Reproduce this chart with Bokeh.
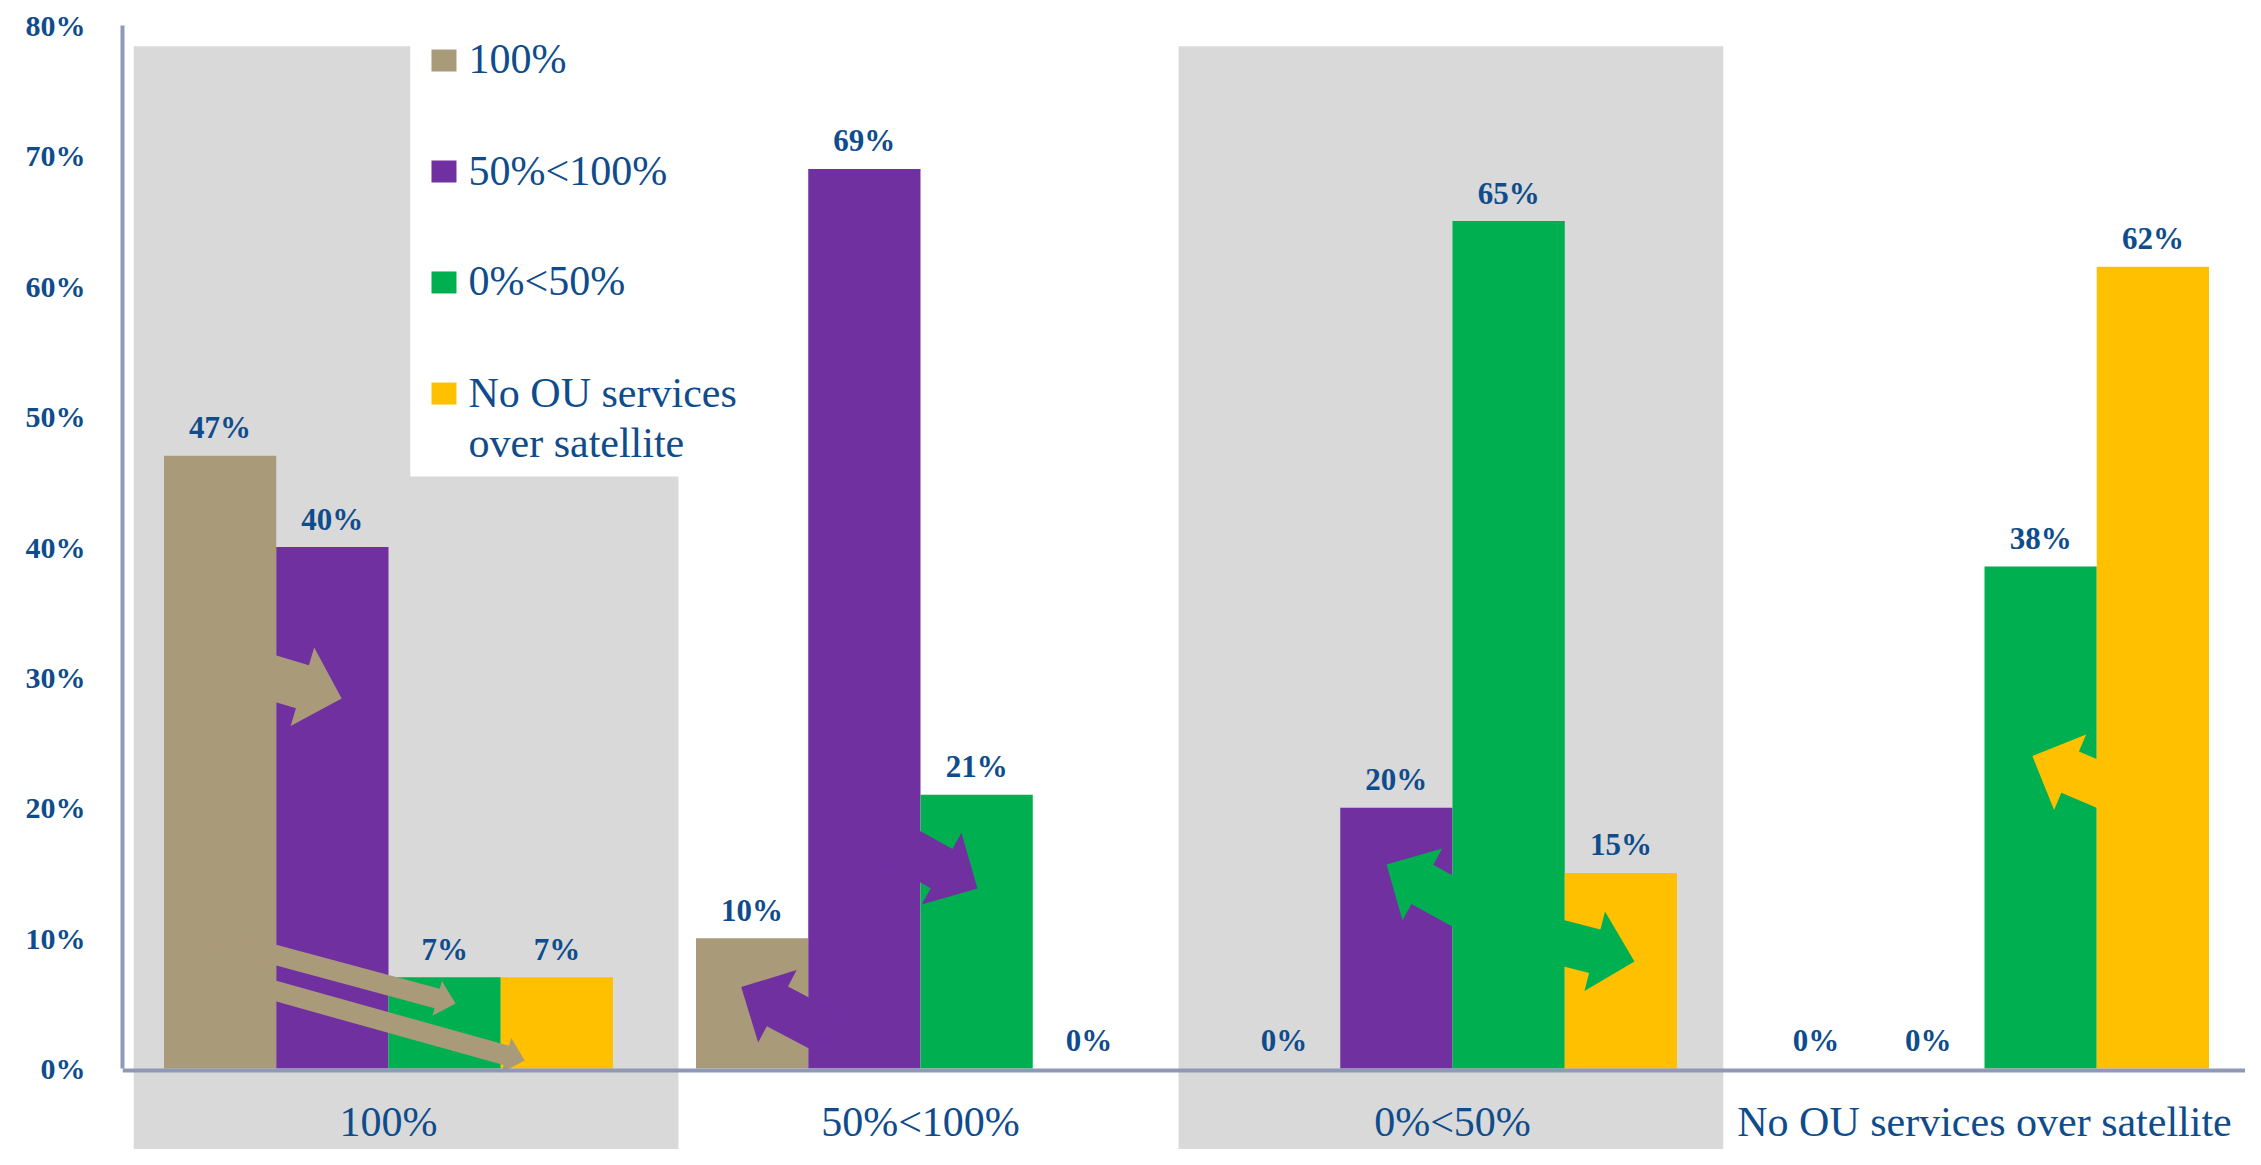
import math
from bokeh.plotting import figure
from bokeh.models import Range1d, FixedTicker, ColumnDataSource
from bokeh.core.properties import value
from bokeh.embed import file_html
from bokeh.resources import INLINE

# ---------------- data ----------------
categories = ["100%", "50%<100%", "0%<50%", "No OU services over satellite"]
series_names = ["100%", "50%<100%", "0%<50%", "No OU services over satellite"]
vals_100 = [47, 10, 0, 0]
vals_50_100 = [40, 69, 20, 0]
vals_0_50 = [7, 21, 65, 38.5]
vals_none = [7, 0, 15, 61.5]
y_ticks = [0, 10, 20, 30, 40, 50, 60, 70, 80]
y_tick_labels = ["0%", "10%", "20%", "30%", "40%", "50%", "60%", "70%", "80%"]
legend_lines = [["100%"], ["50%<100%"], ["0%<50%"], ["No OU services", "over satellite"]]

# ---------------- styles ----------------
COLORS = ["#A99A7A", "#7030A0", "#00B050", "#FFC000"]
BAND = "#D9D9D9"
AXIS = "#8D99B6"
TEXT = "#0F4C8C"
SERIF = "Liberation Serif"

W, H = 2245, 1149
LEFT, RIGHT, TOP, BOTTOM = 122, 0, 25, 0
PX_X = 532.0
PX_Y = 13.0375
X0 = -0.5
X1 = X0 + (W - LEFT - RIGHT) / PX_X
Y1 = 80.0
Y0 = Y1 - (H - TOP - BOTTOM) / PX_Y

p = figure(width=W, height=H, x_range=Range1d(X0, X1), y_range=Range1d(Y0, Y1),
           output_backend="svg", toolbar_location=None,
           min_border_left=LEFT, min_border_right=RIGHT,
           min_border_top=TOP, min_border_bottom=BOTTOM)
p.background_fill_color = "white"
p.border_fill_color = "white"
p.outline_line_color = None
p.xgrid.visible = False
p.ygrid.visible = False

# ---------------- shaded background bands ----------------
b1_l, b1_cut, b1_r = -0.479, 0.041, 0.545
band_top, cut_y = 78.4, 45.4
p.patch([b1_l, b1_l, b1_cut, b1_cut, b1_r, b1_r],
        [Y0 - 1, band_top, band_top, cut_y, cut_y, Y0 - 1],
        fill_color=BAND, line_color=None)
p.quad(left=[1.485], right=[2.509], bottom=[Y0 - 1], top=[band_top],
       fill_color=BAND, line_color=None)

# ---------------- bars ----------------
BW = 0.211
all_series = [vals_100, vals_50_100, vals_0_50, vals_none]
label_x, label_y, label_t = [], [], []
for i, (vals, col) in enumerate(zip(all_series, COLORS)):
    xs = [c + (i - 1.5) * BW for c in range(len(categories))]
    p.vbar(x=xs, top=vals, bottom=0, width=BW, fill_color=col, line_color=None)
    label_x += xs
    label_y += vals
    label_t += [f"{v:.0f}%" for v in vals]

# ---------------- flow arrows ----------------
def arrow_poly(tip_x, tip_y, ang, length, sw, hw, hl):
    a = math.radians(ang)
    dx, dy = math.cos(a), math.sin(a)
    nx, ny = -dy, dx
    pts = [(-length * dx + nx * sw / 2, -length * dy + ny * sw / 2),
           (-hl * dx + nx * sw / 2, -hl * dy + ny * sw / 2),
           (-hl * dx + nx * hw / 2, -hl * dy + ny * hw / 2),
           (0.0, 0.0),
           (-hl * dx - nx * hw / 2, -hl * dy - ny * hw / 2),
           (-hl * dx - nx * sw / 2, -hl * dy - ny * sw / 2),
           (-length * dx - nx * sw / 2, -length * dy - ny * sw / 2)]
    return ([tip_x + u / PX_X for u, _ in pts], [tip_y + v / PX_Y for _, v in pts])

BIG = (45, 82, 41)
THIN = (20, 36, 19)
arrows = [
    (-0.088, 28.38, -16.7, 110, 0, BIG),
    (0.126, 4.99, -15.1, 250, 0, THIN),
    (0.256, 0.61, -15.6, 320, 0, THIN),
    (0.663, 6.25, 152.0, 100, 1, BIG),
    (1.107, 13.81, -29.0, 110, 1, BIG),
    (1.876, 15.65, 151.0, 120, 2, BIG),
    (2.342, 8.21, -14.5, 110, 2, BIG),
    (3.090, 23.96, 157.0, 110, 3, BIG),
]
axs, ays, acs = [], [], []
for tx, ty, ang, ln, ci, (sw, hw, hl) in arrows:
    xs, ys = arrow_poly(tx, ty, ang, ln, sw, hw, hl)
    axs.append(xs)
    ays.append(ys)
    acs.append(COLORS[ci])
p.patches(xs="xs", ys="ys", fill_color="c", line_color=None,
          source=ColumnDataSource(dict(xs=axs, ys=ays, c=acs)))

# ---------------- data labels ----------------
p.text(x="x", y="y", text="t", source=ColumnDataSource(dict(x=label_x, y=label_y, t=label_t)),
       text_font=value(SERIF), text_font_size=value("31px"), text_font_style="bold",
       text_color=TEXT, text_align="center", text_baseline="alphabetic", y_offset=-28)

# ---------------- legend (hand built, sits in the band cut-out) ----------------
leg_x_sq, leg_x_txt = 0.1043, 0.1504
leg_y = [77.32, 68.80, 60.29, 51.77]
p.rect(x=[leg_x_sq] * 4, y=leg_y, width=25, height=22, width_units="screen",
       height_units="screen", fill_color=COLORS, line_color=None)
lt_x, lt_y, lt_t, lt_off = [], [], [], []
for yy, lines in zip(leg_y, legend_lines):
    for k, s in enumerate(lines):
        lt_x.append(leg_x_txt)
        lt_y.append(yy)
        lt_t.append(s)
        lt_off.append(-1 + 50 * k)
p.text(x="x", y="y", text="t", y_offset="o",
       source=ColumnDataSource(dict(x=lt_x, y=lt_y, t=lt_t, o=lt_off)),
       text_font=value(SERIF), text_font_size=value("42px"), text_color=TEXT,
       text_align="left", text_baseline="alphabetic")

# ---------------- axes ----------------
ya = p.yaxis[0]
ya.ticker = FixedTicker(ticks=y_ticks)
ya.major_label_overrides = {t: l for t, l in zip(y_ticks, y_tick_labels)}
ya.bounds = (0, 80)
ya.axis_line_color = AXIS
ya.axis_line_width = 4
ya.major_tick_line_color = None
ya.minor_tick_line_color = None
ya.major_tick_out = 0
ya.major_tick_in = 0
ya.major_label_standoff = 37
ya.major_label_text_font = SERIF
ya.major_label_text_font_size = "30px"
ya.major_label_text_font_style = "bold"
ya.major_label_text_color = TEXT

xa = p.xaxis[0]
xa.fixed_location = -0.15
xa.ticker = FixedTicker(ticks=list(range(len(categories))))
xa.major_label_overrides = {i: c for i, c in enumerate(categories)}
xa.axis_line_color = AXIS
xa.axis_line_width = 4
xa.major_tick_line_color = None
xa.minor_tick_line_color = None
xa.major_tick_out = 0
xa.major_tick_in = 0
xa.major_label_standoff = 29
xa.major_label_text_font = SERIF
xa.major_label_text_font_size = "42px"
xa.major_label_text_color = TEXT

open("out.html", "w").write(file_html(p, INLINE))
